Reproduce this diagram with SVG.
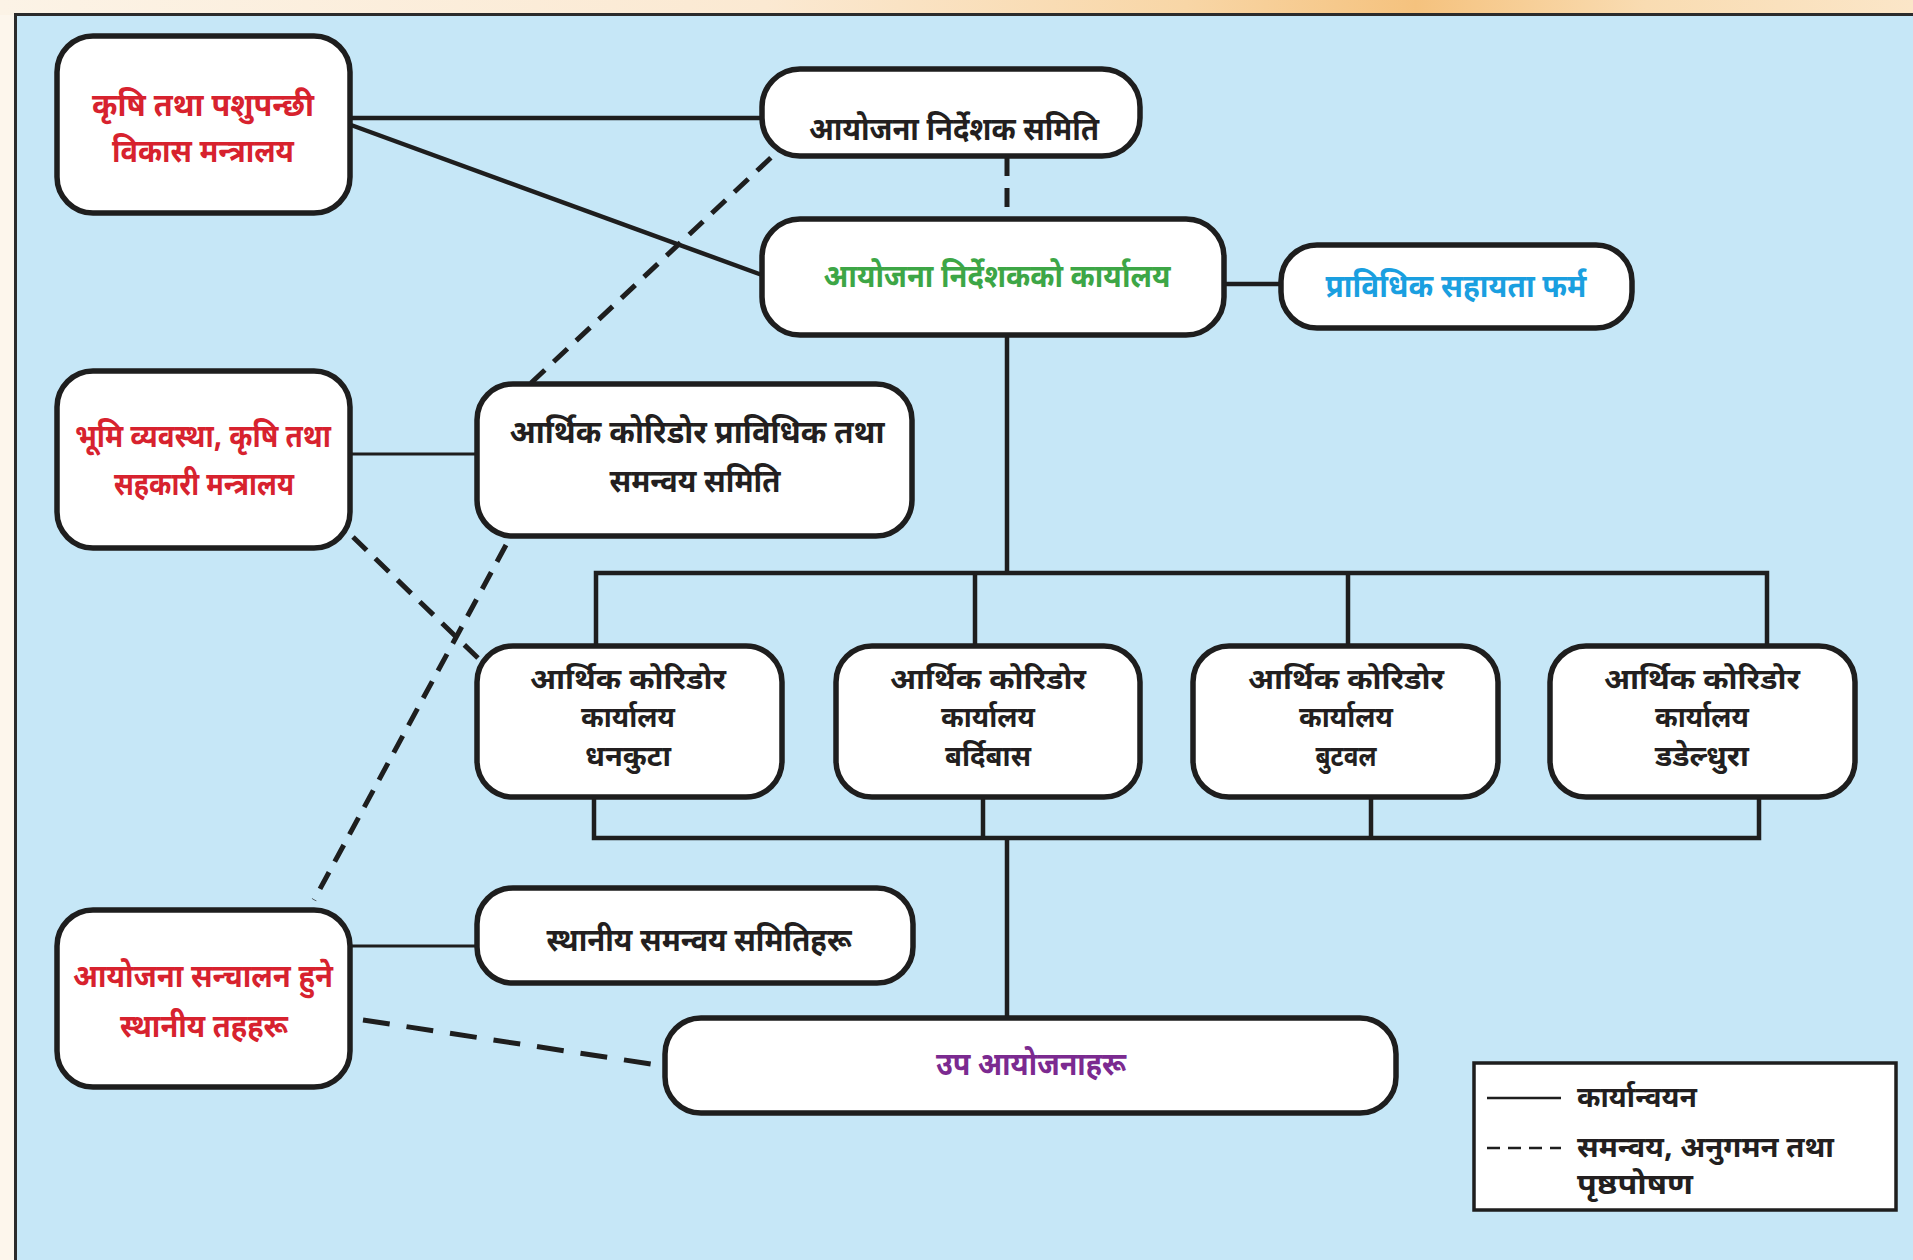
<svg xmlns="http://www.w3.org/2000/svg" width="1913" height="1260" viewBox="0 0 1913 1260">
<defs>
<linearGradient id="topg" x1="0" y1="0" x2="1" y2="0">
<stop offset="0" stop-color="#fcf3e6"/>
<stop offset="0.4" stop-color="#fbe9d2"/>
<stop offset="0.62" stop-color="#f8d6a6"/>
<stop offset="0.74" stop-color="#f5c27e"/>
<stop offset="0.86" stop-color="#f9dcb2"/>
<stop offset="1" stop-color="#fbe6c8"/>
</linearGradient>
<style>
.box{fill:#ffffff;stroke:#1e1e1e;stroke-width:5.5}
.t{font-family:"Noto Sans Devanagari","Noto Sans","Lohit Devanagari",sans-serif;font-weight:bold;font-size:32px;text-anchor:middle}
.tb{font-size:29px}
.k{fill:#231f20}
.r{fill:#d7222e}
.g{fill:#3da646}
.b{fill:#1a9fe0}
.p{fill:#7b2a90}
.lt{font-family:"Noto Sans Devanagari","Noto Sans","Lohit Devanagari",sans-serif;font-weight:bold;font-size:29px;fill:#231f20}
.s{fill:none;stroke:#1e1e1e;stroke-width:4.5}
.s3{fill:none;stroke:#1e1e1e;stroke-width:3}
.d{fill:none;stroke:#1e1e1e;stroke-width:5;stroke-dasharray:19 12}
.d2{fill:none;stroke:#1e1e1e;stroke-width:5;stroke-dasharray:27 17}
</style>
</defs>
<rect x="0" y="0" width="1913" height="1260" fill="#fdf6ec"/>
<rect x="0" y="0" width="1913" height="15" fill="url(#topg)"/>
<rect x="15.5" y="14.5" width="1910" height="1260" fill="#c6e7f7" stroke="#2b2b2b" stroke-width="3"/>

<g id="connectors">
<line class="s" x1="351" y1="118" x2="762" y2="118"/>
<line class="s" x1="351" y1="125" x2="762" y2="275"/>
<line class="d" x1="1007" y1="157" x2="1007" y2="219"/>
<line class="s" x1="1224" y1="284" x2="1281" y2="284"/>
<line class="s" x1="1007" y1="336" x2="1007" y2="573"/>
<polyline class="s" points="596,647 596,573 1767,573 1767,647"/>
<line class="s" x1="975" y1="573" x2="975" y2="647"/>
<line class="s" x1="1348" y1="573" x2="1348" y2="647"/>
<polyline class="s" points="594,797 594,838 1759,838 1759,797"/>
<line class="s" x1="983" y1="797" x2="983" y2="838"/>
<line class="s" x1="1371" y1="797" x2="1371" y2="838"/>
<line class="s" x1="1007" y1="838" x2="1007" y2="1018"/>
<line class="s3" x1="350" y1="454" x2="477" y2="454"/>
<line class="s3" x1="350" y1="946" x2="477" y2="946"/>
<line class="d" x1="531" y1="383" x2="777" y2="152"/>
<line class="d" x1="506" y1="545" x2="314" y2="900"/>
<line class="d" x1="353" y1="537" x2="480" y2="660"/>
<line class="d2" x1="363" y1="1020" x2="664" y2="1066"/>
</g>

<g id="n1">
<rect class="box" x="57" y="36" width="293" height="177" rx="36"/>
<text class="t r" x="203" y="116" textLength="222" lengthAdjust="spacingAndGlyphs">कृषि तथा पशुपन्छी</text>
<text class="t r" x="203" y="162" textLength="182" lengthAdjust="spacingAndGlyphs">विकास मन्त्रालय</text>
</g>
<g id="n2">
<rect class="box" x="762" y="69" width="378" height="87" rx="38"/>
<text class="t k" x="954" y="140" textLength="290" lengthAdjust="spacingAndGlyphs">आयोजना निर्देशक समिति</text>
</g>
<g id="n3">
<rect class="box" x="762" y="219" width="462" height="116" rx="38"/>
<text class="t g" x="997" y="287" textLength="347" lengthAdjust="spacingAndGlyphs">आयोजना निर्देशकको कार्यालय</text>
</g>
<g id="n4">
<rect class="box" x="1281" y="245" width="351" height="83" rx="36"/>
<text class="t b" x="1456" y="297" textLength="261" lengthAdjust="spacingAndGlyphs">प्राविधिक सहायता फर्म</text>
</g>
<g id="n5">
<rect class="box" x="57" y="371" width="293" height="177" rx="36"/>
<text class="t r" x="203" y="447" textLength="256" lengthAdjust="spacingAndGlyphs">भूमि व्यवस्था, कृषि तथा</text>
<text class="t r" x="204" y="495" textLength="180" lengthAdjust="spacingAndGlyphs">सहकारी मन्त्रालय</text>
</g>
<g id="n6">
<rect class="box" x="477" y="384" width="435" height="152" rx="36"/>
<text class="t k" x="697" y="443" textLength="375" lengthAdjust="spacingAndGlyphs">आर्थिक कोरिडोर प्राविधिक तथा</text>
<text class="t k" x="695" y="492" textLength="171" lengthAdjust="spacingAndGlyphs">समन्वय समिति</text>
</g>
<g id="b1">
<rect class="box" x="477" y="646" width="305" height="151" rx="36"/>
<text class="t tb k" x="628" y="689" textLength="196" lengthAdjust="spacingAndGlyphs">आर्थिक कोरिडोर</text>
<text class="t tb k" x="628" y="727" textLength="94" lengthAdjust="spacingAndGlyphs">कार्यालय</text>
<text class="t tb k" x="628" y="766" textLength="86" lengthAdjust="spacingAndGlyphs">धनकुटा</text>
</g>
<g id="b2">
<rect class="box" x="836" y="646" width="304" height="151" rx="36"/>
<text class="t tb k" x="988" y="689" textLength="196" lengthAdjust="spacingAndGlyphs">आर्थिक कोरिडोर</text>
<text class="t tb k" x="988" y="727" textLength="94" lengthAdjust="spacingAndGlyphs">कार्यालय</text>
<text class="t tb k" x="988" y="766" textLength="86" lengthAdjust="spacingAndGlyphs">बर्दिबास</text>
</g>
<g id="b3">
<rect class="box" x="1193" y="646" width="305" height="151" rx="36"/>
<text class="t tb k" x="1346" y="689" textLength="196" lengthAdjust="spacingAndGlyphs">आर्थिक कोरिडोर</text>
<text class="t tb k" x="1346" y="727" textLength="94" lengthAdjust="spacingAndGlyphs">कार्यालय</text>
<text class="t tb k" x="1346" y="766" textLength="61" lengthAdjust="spacingAndGlyphs">बुटवल</text>
</g>
<g id="b4">
<rect class="box" x="1550" y="646" width="305" height="151" rx="36"/>
<text class="t tb k" x="1702" y="689" textLength="196" lengthAdjust="spacingAndGlyphs">आर्थिक कोरिडोर</text>
<text class="t tb k" x="1702" y="727" textLength="94" lengthAdjust="spacingAndGlyphs">कार्यालय</text>
<text class="t tb k" x="1702" y="766" textLength="94" lengthAdjust="spacingAndGlyphs">डडेल्धुरा</text>
</g>
<g id="n7">
<rect class="box" x="477" y="888" width="436" height="95" rx="36"/>
<text class="t k" x="699" y="951" textLength="305" lengthAdjust="spacingAndGlyphs">स्थानीय समन्वय समितिहरू</text>
</g>
<g id="n8">
<rect class="box" x="665" y="1018" width="731" height="95" rx="36"/>
<text class="t p" x="1031" y="1075" textLength="190" lengthAdjust="spacingAndGlyphs">उप आयोजनाहरू</text>
</g>
<g id="n9">
<rect class="box" x="57" y="910" width="293" height="177" rx="36"/>
<text class="t r" x="203" y="987" textLength="260" lengthAdjust="spacingAndGlyphs">आयोजना सन्चालन हुने</text>
<text class="t r" x="204" y="1037" textLength="168" lengthAdjust="spacingAndGlyphs">स्थानीय तहहरू</text>
</g>
<g id="legend">
<rect x="1474" y="1063" width="422" height="147" fill="#ffffff" stroke="#1e1e1e" stroke-width="3.5"/>
<line x1="1487" y1="1098" x2="1561" y2="1098" stroke="#1e1e1e" stroke-width="2.5"/>
<line x1="1487" y1="1148" x2="1561" y2="1148" stroke="#1e1e1e" stroke-width="2.5" stroke-dasharray="13 8"/>
<text class="lt" x="1577" y="1107" textLength="120" lengthAdjust="spacingAndGlyphs">कार्यान्वयन</text>
<text class="lt" x="1577" y="1157" textLength="257" lengthAdjust="spacingAndGlyphs">समन्वय, अनुगमन तथा</text>
<text class="lt" x="1577" y="1194" textLength="116" lengthAdjust="spacingAndGlyphs">पृष्ठपोषण</text>
</g>
</svg>
